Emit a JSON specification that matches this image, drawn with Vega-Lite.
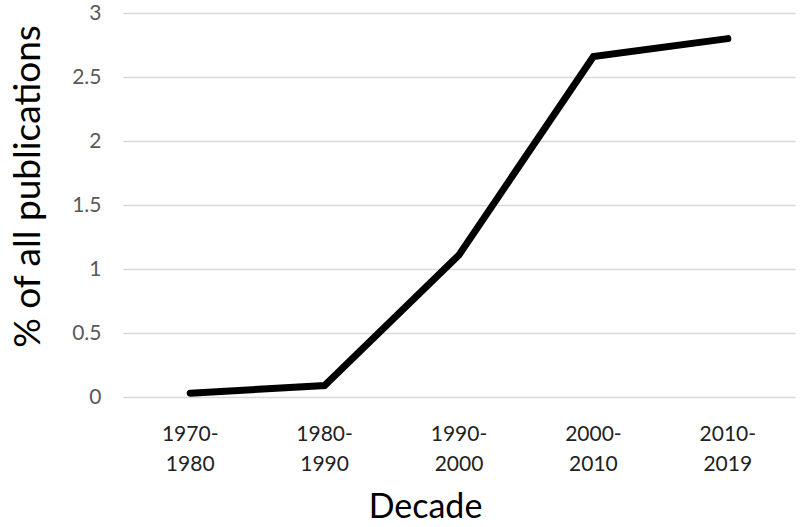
{
  "$schema": "https://vega.github.io/schema/vega-lite/v6.json",
  "width": 672,
  "height": 384,
  "autosize": "none",
  "padding": {"left": 123, "top": 13, "right": 5, "bottom": 130},
  "background": "white",
  "config": {
    "font": "Lato",
    "view": {"stroke": null}
  },
  "data": {
    "values": [
      {"decade": "1970-1980", "pct": 0.03},
      {"decade": "1980-1990", "pct": 0.09},
      {"decade": "1990-2000", "pct": 1.11},
      {"decade": "2000-2010", "pct": 2.66},
      {"decade": "2010-2019", "pct": 2.8}
    ]
  },
  "mark": {"type": "line", "color": "black", "strokeWidth": 7, "strokeCap": "round", "strokeJoin": "miter"},
  "encoding": {
    "x": {
      "field": "decade",
      "type": "ordinal",
      "sort": null,
      "scale": {"type": "band", "paddingInner": 0, "paddingOuter": 0},
      "axis": {
        "title": "Decade",
        "titleFontSize": 34,
        "titleFontWeight": "normal",
        "titleColor": "black",
        "titlePadding": 16,
        "titleX": 302,
        "titleAlign": "center",
        "labelExpr": "[slice(datum.label,0,5), slice(datum.label,5)]",
        "labelAngle": 0,
        "labelFontSize": 21,
        "labelLineHeight": 30,
        "labelColor": "#222222",
        "labelPadding": 26,
        "domain": false,
        "ticks": false,
        "grid": false
      }
    },
    "y": {
      "field": "pct",
      "type": "quantitative",
      "scale": {"domain": [0, 3], "nice": false},
      "axis": {
        "title": "% of all publications",
        "titleFontSize": 37,
        "titleFontWeight": "normal",
        "titleColor": "black",
        "titlePadding": 24,
        "titleY": 173,
        "titleAlign": "center",
        "values": [0, 0.5, 1, 1.5, 2, 2.5, 3],
        "format": "~g",
        "labelFontSize": 21,
        "labelColor": "#595959",
        "labelPadding": 22,
        "domain": false,
        "ticks": false,
        "grid": true,
        "gridColor": "#d9d9d9",
        "gridWidth": 1.5
      }
    }
  }
}
